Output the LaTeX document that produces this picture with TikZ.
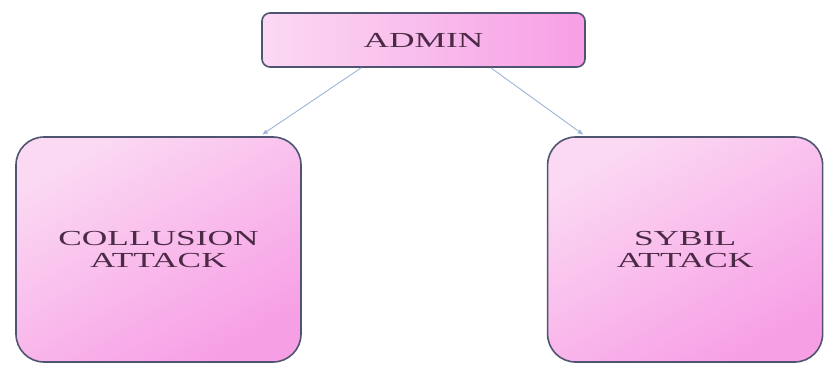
\documentclass[tikz,border=0pt]{standalone}
\usepackage{fontspec}
\newfontfamily\boxfont[FakeStretch=1.65]{Liberation Serif}
\usetikzlibrary{positioning, arrows}
\definecolor{boxline}{HTML}{4F5570}
\definecolor{pinklight}{HTML}{FBD9F3}
\definecolor{pinkdeep}{HTML}{F79FE5}
\definecolor{labeltext}{HTML}{4A2A45}
\definecolor{linkblue}{HTML}{9CB4D6}
\tikzset{x=1bp, y=-1bp,
every box/.style={ % Common look of all three boxes
draw=boxline, line width=1.6bp,
inner sep=0pt, align=center,
text=labeltext, font=\boxfont\fontsize{21.5}{22}\selectfont},
rootbox/.style={every box, % Top box, shaded left to right
left color=pinklight, right color=pinkdeep,
rounded corners=8bp, minimum width=323bp, minimum height=54bp},
attackbox/.style={every box, % Lower boxes, shaded to bottom right
top color=pinklight, bottom color=pinkdeep, shading angle=30,
rounded corners=28bp, minimum width=285bp, minimum height=225bp},
link/.style={ % Arrows from the admin box
draw=linkblue, line width=0.9bp, ->, >=stealth'}}
\begin{document}
\begin{tikzpicture}
    \useasboundingbox (0,0) rectangle (825,365);

    \node[rootbox] (admin) at (423.5,40) {ADMIN};
    \node[attackbox] (collusion) at (158.5,249.5) {COLLUSION\\ATTACK};
    \node[attackbox, minimum width=275bp, right=245bp of collusion] (sybil) {SYBIL\\ATTACK};

    \draw[link] ([xshift=100bp]admin.south west) -- ([xshift=-39bp, yshift=2bp]collusion.north east);
    \draw[link] ([xshift=-95bp]admin.south east) -- ([xshift=36bp, yshift=2bp]sybil.north west);

\end{tikzpicture}
\end{document}
